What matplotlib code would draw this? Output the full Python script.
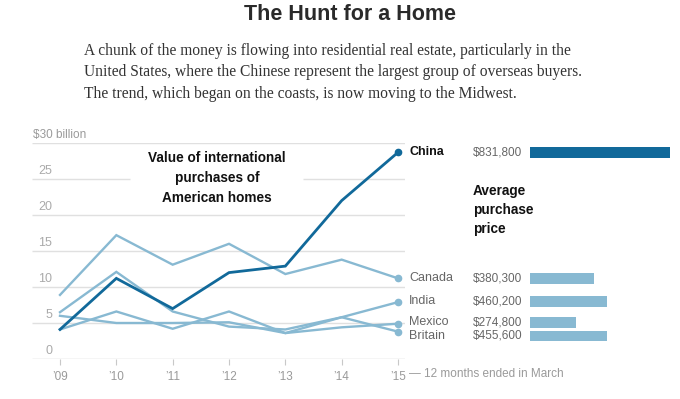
import matplotlib
matplotlib.use("Agg")
import matplotlib.pyplot as plt
from matplotlib.transforms import blended_transform_factory

# --- DATA ---
years = [2009, 2010, 2011, 2012, 2013, 2014, 2015]
year_labels = ["\u201909", "\u201910", "\u201911", "\u201912", "\u201913", "\u201914", "\u201915"]

china = [4.1, 11.2, 7.0, 12.0, 12.9, 22.0, 28.7]
canada = [8.9, 17.2, 13.1, 16.0, 11.8, 13.8, 11.2]
india = [6.5, 12.1, 6.6, 4.5, 4.1, 5.8, 7.9]
mexico = [6.0, 5.0, 5.0, 5.1, 3.6, 4.4, 4.9]
britain = [4.1, 6.6, 4.2, 6.6, 3.6, 5.8, 3.8]

countries = ["China", "Canada", "India", "Mexico", "Britain"]
series = [china, canada, india, mexico, britain]
avg_price = [831800, 380300, 460200, 274800, 455600]
price_labels = ["$831,800", "$380,300", "$460,200", "$274,800", "$455,600"]

y_ticks = [0, 5, 10, 15, 20, 25, 30]

# --- STYLE ---
DARK = "#11699a"
LIGHT = "#88b9d2"
GRID = "#e0e0e0"
GRAY = "#9a9a9a"
LABEL = "#666666"
HEAD = ["Liberation Sans", "DejaVu Sans"]
SANS = ["Liberation Sans", "DejaVu Sans"]
SERIF = ["Liberation Serif", "DejaVu Serif"]

# small vertical nudges so the end labels don't collide
label_nudge = [0.0, 0.0, 0.1, 0.2, -0.6]

W, H = 680, 399
fig = plt.figure(figsize=(W / 100, H / 100), dpi=100)


def fx(px):
    return px / W


def fy(py):
    return 1 - py / H


# header
fig.text(fx(350), fy(15), "The Hunt for a Home", ha="center", va="center",
         fontsize=15.5, fontweight="bold", family=HEAD, color="#2a2a2a")
intro = [
    "A chunk of the money is flowing into residential real estate, particularly in the",
    "United States, where the Chinese represent the largest group of overseas buyers.",
    "The trend, which began on the coasts, is now moving to the Midwest.",
]
for i, line in enumerate(intro):
    fig.text(fx(84), fy(51 + i * 21.5), line, ha="left", va="center",
             fontsize=11.2, family=SERIF, color="#333333")

# --- LINE CHART ---
ax = fig.add_axes([fx(32), 40 / H, 373 / W, 216 / H])
x0, x1 = 2008.503, 2015.124
ax.set_xlim(x0, x1)
ax.set_ylim(0, 30)
for s in ax.spines.values():
    s.set_visible(False)

for v in y_ticks:
    if v == 25:
        # gap left for the chart caption
        ax.hlines(v, x0, 2010.243, color=GRID, lw=1, zorder=0)
        ax.hlines(v, 2013.314, x1, color=GRID, lw=1, zorder=0)
    else:
        ax.hlines(v, x0, x1, color="#d0d0d0" if v == 0 else GRID, lw=1, zorder=0)

    if v == 30:
        ax.annotate("$30 billion", xy=(0.003, v), xycoords=("axes fraction", "data"),
                    xytext=(0, 8), textcoords="offset pixels", ha="left", va="center",
                    fontsize=8.5, family=SANS, color=GRAY)
    else:
        ax.annotate(str(v), xy=(0.054, v), xycoords=("axes fraction", "data"),
                    xytext=(0, 8), textcoords="offset pixels", ha="right", va="center",
                    fontsize=9, family=SANS, color="#aaaaaa")

ax.set_yticks([])
ax.set_xticks(years)
ax.set_xticklabels(year_labels, fontsize=8.5, family=SANS, color=GRAY)
ax.tick_params(axis="x", length=4, width=0.8, color="#c8c8c8", pad=5)

for name, vals in zip(countries[::-1], series[::-1]):
    is_china = name == "China"
    c = DARK if is_china else LIGHT
    ax.plot(years, vals, color=c, lw=2.0 if is_china else 1.7,
            solid_joinstyle="miter", zorder=3 if is_china else 2)
    ax.plot(years[-1], vals[-1], "o", color=c, ms=4.5, zorder=4)

fig.text(fx(409), fy(374), "\u2014 12 months ended in March", ha="left", va="center",
         fontsize=8.5, family=SANS, color=GRAY)

fig.text(fx(217), fy(178), "Value of international\npurchases of\nAmerican homes",
         ha="center", va="center", multialignment="center", linespacing=1.5,
         fontsize=9.8, fontweight="bold", family=HEAD, color="#111111")

# end labels and prices
tr = blended_transform_factory(fig.transFigure, ax.transData)
for name, vals, nudge, plabel in zip(countries, series, label_nudge, price_labels):
    ly = vals[-1] + nudge
    is_china = name == "China"
    ax.text(fx(409), ly, name, transform=tr, ha="left", va="center",
            fontsize=9, family=SANS, color="#111111" if is_china else LABEL,
            fontweight="bold" if is_china else "normal")
    ax.text(fx(473), ly, plabel, transform=tr, ha="left", va="center",
            fontsize=8.5, family=SANS, color=LABEL)

fig.text(fx(473), fy(210), "Average\npurchase\nprice", ha="left", va="center",
         linespacing=1.5, fontsize=9.8, fontweight="bold", family=HEAD, color="#111111")

# --- BARS ---
bx = fig.add_axes([fx(530), 40 / H, 140 / W, 216 / H], sharey=ax)
bar_y = [v[-1] + n for v, n in zip(series, label_nudge)]
bar_colors = [DARK] + [LIGHT] * (len(countries) - 1)
bx.barh(bar_y, avg_price, height=1.45, color=bar_colors)
bx.set_xlim(0, max(avg_price))
bx.axis("off")

fig.savefig("out.png", dpi=100)
